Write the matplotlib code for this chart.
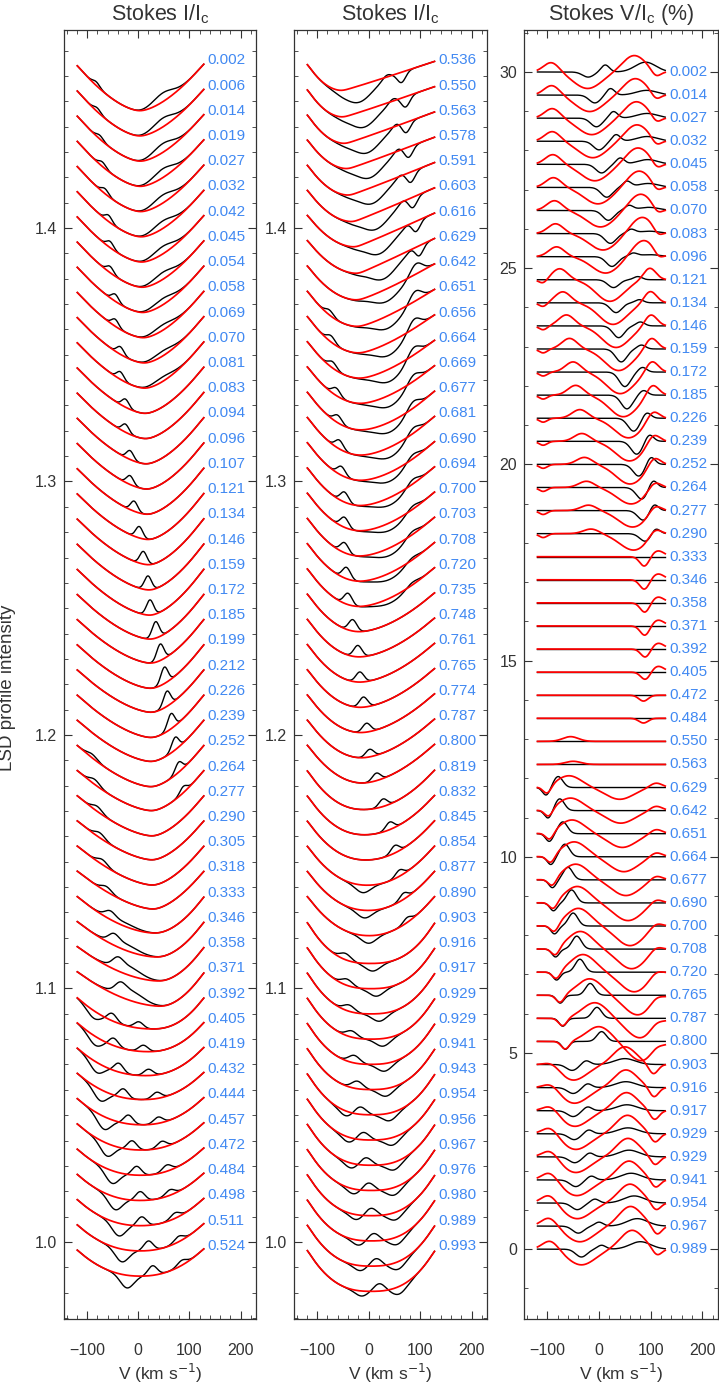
import numpy as np
import matplotlib.pyplot as plt

plt.rcParams['font.family'] = ['Liberation Sans', 'DejaVu Sans']
_ = None

# ---------------- panel 1 : Stokes I, first half of the phases
phase_1 = [0.002, 0.006, 0.014, 0.019, 0.027, 0.032, 0.042, 0.045, 0.054, 0.058,
           0.069, 0.070, 0.081, 0.083, 0.094, 0.096, 0.107, 0.121, 0.134, 0.146,
           0.159, 0.172, 0.185, 0.199, 0.212, 0.226, 0.239, 0.252, 0.264, 0.277,
           0.290, 0.305, 0.318, 0.333, 0.346, 0.358, 0.371, 0.392, 0.405, 0.419,
           0.432, 0.444, 0.457, 0.472, 0.484, 0.498, 0.511, 0.524]
# model line: centre (km/s), depth (1e-3), shape exponent
mod1_c = [3, 3, 4, 4, 5, 6, 7, 8, 9, 10, 12, 13, 14, 15, 16, 17, 18,
          20, 21, 22, 23, 24, 25, 25, 26, 26, 26, 26, 27, 28, 28, 29, 30,
          34, 38, 42, 45, 30, 21, 15, 10, 8, 6, 5, 4, 4, 4, 4]
mod1_d = [20] * 21 + [19.5, 19, 19, 18.5, 18.5, 18, 18, 17.5, 17.5, 17, 17, 16.5,
                      16, 15.5, 15, 15, 14, 13, 12.5, 12, 12, 12, 12, 12, 12, 12, 12]
mod1_q = [1.6] * 33 + [1.8] * 4 + [2.2] * 11
# observed = model + features (velocity km/s, amplitude 1e-3)
obs1_a_v = [-82, -80, -75, -70, -65, -58, -55, -55, -45, -45, -35, -35, -25, -25, -16,
            -16, -8, 2, 10, 19, 23, 34, 43, 51, 56, 64, 72, 79, 88] + [_] * 19
obs1_a_a = [1.5, 1.5, 1.5, 1.8, 2, 2.5, 2.5, 2.5, 2.8, 2.8, 3, 3, 3.2, 3.2, 3.5, 3.5,
            4, 4.5, 5, 5.5, 6, 6.5, 6.5, 6.5, 6, 6, 5, 4, 2.5] + [_] * 19
obs1_b_v = [48] * 12 + [_] * 36
obs1_b_a = [3.5, 3.5, 3.5, 3.5, 3.2, 3, 3, 2.8, 2.5, 2.2, 2, 1.8] + [_] * 36
obs1_c_v = [_] * 27 + [-90, -85, -80, -75, -70, -62, -55, -48, -40, -35] + [_] * 11
obs1_c_a = [_] * 27 + [1.5, 2, 2, 2, 2, 2, 2.5, 3, 3, 3] + [_] * 11
obs1_d_v = [_] * 33 + [-30, -25, -20, -15] + [_] * 11
obs1_d_a = [_] * 33 + [1.5, 2.5, 3.5, 4] + [_] * 11
obs1_e_v = [_] * 37 + [-87, -84, -81, -74, -67, -61, -51, -45, -38, -32, -22]
obs1_e_a = [_] * 37 + [-3, -3.5, -4, -4.5, -5, -5, -5, -5, -5, -5, -5]
obs1_f_v = [_] * 37 + [-51, -48, -38, -29, -19, -12, -3, 4, 7, 20, 28]
obs1_f_a = [_] * 37 + [3, 3, 3.5, 3.5, 3.5, 3.5, 3.5, 3.5, 3.5, 3.8, 3.8]
obs1_g_v = [_] * 37 + [1, 10, 20, 36, 39, 46, 56, 62, 72, 79, 85]
obs1_g_a = [_] * 37 + [2.5, 2.5, 2.5, 2.5, 2.5, 2.5, 2.5, 2.2, 2.2, 2.2, 2]

# ---------------- panel 2 : Stokes I, second half of the phases
phase_2 = [0.536, 0.550, 0.563, 0.578, 0.591, 0.603, 0.616, 0.629, 0.642, 0.651,
           0.656, 0.664, 0.669, 0.677, 0.681, 0.690, 0.694, 0.700, 0.703, 0.708,
           0.720, 0.735, 0.748, 0.761, 0.765, 0.774, 0.787, 0.800, 0.819, 0.832,
           0.845, 0.854, 0.877, 0.890, 0.903, 0.916, 0.917, 0.929, 0.929, 0.941,
           0.943, 0.954, 0.956, 0.967, 0.976, 0.980, 0.989, 0.993]
mod2_c = [-51, -49, -45, -40, -37, -30, -25, -20, -21, -20, -18, -16, -15,
          -15, -15, -15, -16, -16, -17, -17, -18, -18, -18, -17, -16, -15, -14, -12,
          -10, -8, -5, -2, 0, 2] + [3, 4, 4] + [5] * 11
mod2_d = [12, 12.5, 13, 13, 13.5, 14, 14, 14.5, 15, 15.5, 16, 16, 16] + [16.5] * 15 \
    + [17] * 6 + [18] * 14
mod2_ql = [2.0] * 28 + [2.2] * 6 + [2.6] * 14
mod2_qr = [1.05] * 8 + [1.2, 1.3, 1.4, 1.5, 1.6] + [1.7] * 15 + [2.0] * 6 + [2.6] * 14
obs2_a_v = [-18, -8, -2, 3, 8, 15, 22, 30, 35, 38, 40, 42, 42, 42, 42, 42, 42, 42, 42,
            42, 42] + [_] * 27
obs2_a_a = [-6.5] * 8 + [-5, -5, -5, -5, -4.5, -4, -4, -3.5, -3, -3, -3, -2.5, -2] + [_] * 27
obs2_b_v = [35, 47, 54, 57, 62, 67, 77, 85] + [_] * 40
obs2_b_a = [1.5, 1.5, 1.5, 1.5, 1.2, 1.2, 1, 1] + [_] * 40
obs2_c_v = [64, 72, 73, 78, 82, 86, 92, 98] + [_] * 40
obs2_c_a = [-4] * 8 + [_] * 40
obs2_d_v = [_] * 8 + [92, 90, 88, 87, 87, 86, 86, 85, 85, 85, 84, 84, 84] + [_] * 27
obs2_d_a = [_] * 8 + [4.5, 4.5, 4.5, 4, 3.5, 3.5, 3, 2.5, 2.5, 2, 2, 1.5, 1.5] + [_] * 27
obs2_e_v = [_] * 9 + [-76, -73, -70, -63, -60, -57, -53, -47, -47, -47, -43, -40, -31,
                      -21, -17, -10, -4, 2, 15, 28, 41, 51, 60, 68, 75] + [_] * 14
obs2_e_a = [_] * 9 + [2, 2.5, 2.5, 3, 3, 3.5, 3.5, 4, 4, 4, 4.5, 4.5, 4.5, 4.5, 4, 4,
                      3.5, 3, 3, 3, 3, 3, 2.5, 2.5, 2] + [_] * 14
obs2_f_v = [_] * 31 + [-11, -8, 0, 8, 15, 21, 28, 31, 34, 41, 47, 50, 50, 53, 56, 58, 60]
obs2_f_a = [_] * 31 + [-3] * 17
obs2_g_v = [_] * 34 + [-45, -42, -38, -33, -28, -22, -16, -10, -5, 0, 5, 10, 15, 21]
obs2_g_a = [_] * 34 + [2.5] * 4 + [3] * 10
obs2_h_v = [_] * 40 + [-45, -40, -35, -30, -25, -20, -17, -14]
obs2_h_a = [_] * 40 + [-2] * 8

# ---------------- panel 3 : Stokes V (%)
phase_3 = [0.002, 0.014, 0.027, 0.032, 0.045, 0.058, 0.070, 0.083, 0.096, 0.121,
           0.134, 0.146, 0.159, 0.172, 0.185, 0.226, 0.239, 0.252, 0.264, 0.277,
           0.290, 0.333, 0.346, 0.358, 0.371, 0.392, 0.405, 0.472, 0.484, 0.550,
           0.563, 0.629, 0.642, 0.651, 0.664, 0.677, 0.690, 0.700, 0.708, 0.720,
           0.765, 0.787, 0.800, 0.903, 0.916, 0.917, 0.929, 0.929, 0.941, 0.954,
           0.967, 0.989]
# model components
mv_n0_v = [_] * 9 + [-108] * 12 + [_] * 10 + [-100, -97, -95, -93, -90, -88, -86, -84,
                                             -82, -75, -70, -65] + [_] * 9
mv_n0_a = [_] * 9 + [-0.1] * 12 + [_] * 10 + [-0.2] * 12 + [_] * 9
mv_p1_v = [-92, -91, -90, -90, -89, -88, -86, -84, -82] \
    + [-76, -70, -63, -57, -50, -45, -37, -33, -28, -24, -20, -15] + [_] * 8 + [-55, -50] \
    + [_] * 12 + [-90, -92, -93, -94, -94, -95, -96, -96, -94]
mv_p1_a = [0.25] * 9 + [0.28, 0.28, 0.28, 0.27, 0.26, 0.25, 0.22, 0.2, 0.18, 0.16, 0.14,
                        0.12] + [_] * 8 + [0.12, 0.08] + [_] * 12 \
    + [0.12, 0.15, 0.17, 0.2, 0.2, 0.22, 0.23, 0.23, 0.23]
mv_p1w_v = [_] * 31 + [-58, -55, -52, -48, -45, -42, -40, -36, -31, -18, -8, 0] + [_] * 9
mv_p1w_a = [_] * 31 + [0.3, 0.32, 0.35, 0.38, 0.4, 0.42, 0.45, 0.45, 0.45, 0.42, 0.4,
                       0.38] + [_] * 9
mv_n1_v = [-22, -18, -14, -12, -8, -2, 3, 8, 13] \
    + [21, 27, 33, 38, 41, 47, 57, 59, 60, 62, 65, 67] + [_] * 10 \
    + [40, 42, 45, 48, 52, 56, 60, 63, 68, 75, 80, 83] \
    + [-50, -48, -47, -45, -45, -43, -42, -37, -34]
mv_n1_a = [-0.42] * 9 + [-0.55] * 6 + [-0.5] * 3 + [-0.42] * 3 + [_] * 10 \
    + [-0.3, -0.32, -0.35, -0.38, -0.4, -0.45, -0.5, -0.5, -0.5, -0.5, -0.5, -0.5] \
    + [-0.4] * 9
mv_p2_v = [68, 70, 72, 73, 75, 77, 80, 83, 86] + [_] * 34 + [50, 52, 53, 55, 56, 58, 60,
                                                             61, 64]
mv_p2_a = [0.42] * 9 + [_] * 34 + [0.45, 0.45, 0.46, 0.47, 0.47, 0.48, 0.48, 0.5, 0.48]
mv_p3_v = [_] * 9 + [98, 99, 100, 101, 102, 103, 104, 105, 106, 107, 108, 108] \
    + [114] * 6 + [_] * 4 + [110] * 12 + [_] * 9
mv_p3_a = [_] * 9 + [0.3] * 6 + [0.25] * 3 + [0.2] * 3 + [0.15] * 6 + [_] * 4 \
    + [0.12] * 12 + [_] * 9
mv_n2_v = [110, 110, 111, 111, 112, 112, 113, 114, 115] + [_] * 12 \
    + [88, 88, 89, 89, 90, 90, 86, 86] + [_] * 14 \
    + [105, 106, 107, 108, 108, 109, 110, 112, 112]
mv_n2_a = [-0.15] * 9 + [_] * 12 + [-0.25, -0.25, -0.25, -0.25, -0.22, -0.2, -0.15, -0.12] \
    + [_] * 14 + [-0.25, -0.25, -0.24, -0.23, -0.22, -0.21, -0.2, -0.23, -0.18]
# observed components
ov_dip_v = [-21, -8, -5, 0, 5, 15, 18, 22, 25] \
    + [28, 33, 38, 43, 50, 54, 67, 73, 77, 83, 86, 90] + [_] * 22 \
    + [-52, -50, -50, -48, -47, -45, -42, -40, -34]
ov_dip_a = [-0.13, -0.2, -0.22, -0.22, -0.22, -0.25, -0.25, -0.25, -0.25] \
    + [-0.2, -0.25, -0.3, -0.33, -0.37, -0.35, -0.33, -0.33, -0.3, -0.3, -0.25, -0.2] \
    + [_] * 22 + [-0.15] * 5 + [-0.17, -0.17, -0.18, -0.2]
ov_bump_v = [12, 22, 28, 33, 41, 54, 58, 62, 66] \
    + [75, 78, 80, 82, 84, 86, 92, 97, 100, 104, 106, 109] + [_] * 22 \
    + [-25, -22, -22, -20, -18, -15, -8, 0, 5]
ov_bump_a = [0.18, 0.17, 0.17, 0.17, 0.16, 0.15, 0.12, 0.1, 0.08] \
    + [0.08, 0.08, 0.1, 0.1, 0.12, 0.12, 0.15, 0.18, 0.2, 0.2, 0.18, 0.15] + [_] * 22 \
    + [0.1] * 9
ov_broad_v = [90, 92, 93, 93, 94, 95, 96, 97, 98] + [_] * 34 \
    + [50, 52, 54, 56, 58, 62, 68, 74, 80]
ov_broad_a = [0.25, 0.12, 0.12, 0.12, 0.12, 0.1, 0.08, 0.06, 0.05] + [_] * 34 \
    + [0.15, 0.15, 0.15, 0.15, 0.17, 0.17, 0.18, 0.19, 0.19]
ov_sdip_v = [_] * 31 + [-102, -98, -96, -93, -90, -88, -86, -84, -82, -75, -70, -65] + [_] * 9
ov_sdip_a = [_] * 31 + [-0.2] * 12 + [_] * 9
ov_peak_v = [_] * 31 + [-79, -76, -70, -66, -60, -53, -50, -43, -37, -17, -4, 5] + [_] * 9
ov_peak_a = [_] * 31 + [0.28, 0.3, 0.3, 0.32, 0.32, 0.33, 0.33, 0.33, 0.33, 0.3, 0.28,
                       0.25] + [_] * 9

label_blue = '#4189f2'
vx = np.arange(-200.0, 201.0, 1.0)
show = (vx >= -119) & (vx <= 128)
kern = np.exp(-0.5 * (np.arange(-20, 21) / 6.0) ** 2)
kern /= kern.sum()


def features(tracks, k):
    out = np.zeros_like(vx)
    for sig, vs, amps in tracks:
        if vs[k] is not None:
            out += amps[k] * np.exp(-0.5 * ((vx - vs[k]) / sig) ** 2)
    return out


def line_profile(c, d, ql, qr, vl, vr):
    left = vx < c
    u = np.where(left, (c - vx) / (c - vl), (vx - c) / (vr - c))
    q = np.where(left, ql, qr)
    prof = -d * np.clip(1 - u ** q, 0, None)
    return np.convolve(prof, kern, mode='same')


def style_axes(ax):
    ax.set_xlim(-145, 230)
    ax.set_xticks([-100, 0, 100, 200])
    ax.set_xticks(np.arange(-140, 231, 20), minor=True)
    ax.tick_params(which='both', direction='in', top=True, right=True,
                   labelsize=11.5, color='#333333', labelcolor='#333333')
    ax.tick_params(which='major', length=6)
    ax.tick_params(which='minor', length=3)
    ax.tick_params(axis='x', pad=17)
    for s in ax.spines.values():
        s.set_linewidth(0.9)
        s.set_color('#333333')
    ax.set_xlabel('V (km s$^{-1}$)', fontsize=12.5, color='#333333', labelpad=3)


fig = plt.figure(figsize=(7.19, 13.84), dpi=100)
H = 1384.0
W = 719.0
ax1 = fig.add_axes([64 / W, 1 - 1319 / H, 192 / W, 1289 / H])
ax2 = fig.add_axes([294 / W, 1 - 1319 / H, 193 / W, 1289 / H])
ax3 = fig.add_axes([524 / W, 1 - 1319 / H, 194 / W, 1289 / H])

step_i = 0.00995
panels_i = [
    (ax1, phase_1, mod1_c, mod1_d, mod1_q, mod1_q, -128, 134,
     [(7, obs1_a_v, obs1_a_a), (20, obs1_b_v, obs1_b_a), (10, obs1_c_v, obs1_c_a),
      (25, obs1_d_v, obs1_d_a), (13, obs1_e_v, obs1_e_a), (9, obs1_f_v, obs1_f_a),
      (9, obs1_g_v, obs1_g_a)]),
    (ax2, phase_2, mod2_c, mod2_d, mod2_ql, mod2_qr, -124, 134,
     [(26, obs2_a_v, obs2_a_a), (8, obs2_b_v, obs2_b_a), (8, obs2_c_v, obs2_c_a),
      (12, obs2_d_v, obs2_d_a), (8, obs2_e_v, obs2_e_a), (14, obs2_f_v, obs2_f_a),
      (11, obs2_g_v, obs2_g_a), (12, obs2_h_v, obs2_h_a)]),
]
for ax, ph, mc, md, mql, mqr, vl, vr, tracks in panels_i:
    n = len(ph)
    for k in range(n):
        base = 0.9985 + step_i * (n - 1 - k)
        model = line_profile(mc[k], md[k], mql[k], mqr[k], vl, vr) * 1e-3
        obs = model + features(tracks, k) * 1e-3
        ax.plot(vx[show], base + obs[show], color='black', lw=1.0)
        ax.plot(vx[show], base + model[show], color='red', lw=1.25)
        ax.text(136, base, f'{ph[k]:.3f}', color=label_blue, fontsize=11, va='center',
                ha='left')
    style_axes(ax)
    ax.set_ylim(0.9696, 1.4781)
    ax.set_yticks([1.0, 1.1, 1.2, 1.3, 1.4])
    ax.set_yticklabels(['1.0', '1.1', '1.2', '1.3', '1.4'])
    ax.set_yticks(np.arange(0.97, 1.48, 0.01), minor=True)
    ax.tick_params(axis='y', pad=5)
    ax.set_title('Stokes I/I$_\\mathregular{c}$', fontsize=15.5, color='#333333', pad=7)

ax1.set_ylabel('LSD profile intensity', fontsize=13.5, color='#333333')
ax1.yaxis.set_label_coords(-0.25, 0.49)

model_v = [(8, mv_n0_v, mv_n0_a), (15, mv_p1_v, mv_p1_a), (24, mv_p1w_v, mv_p1w_a),
           (27, mv_n1_v, mv_n1_a), (22, mv_p2_v, mv_p2_a), (12, mv_p3_v, mv_p3_a),
           (9, mv_n2_v, mv_n2_a)]
obs_v = [(11, ov_dip_v, ov_dip_a), (8, ov_bump_v, ov_bump_a), (20, ov_broad_v, ov_broad_a),
         (7, ov_sdip_v, ov_sdip_a), (9, ov_peak_v, ov_peak_a)]
n3 = len(phase_3)
step_v = 30.0 / (n3 - 1)
for k in range(n3):
    base = step_v * (n3 - 1 - k)
    model = features(model_v, k)
    obs = features(obs_v, k)
    ax3.plot(vx[show], base + obs[show], color='black', lw=1.0)
    ax3.plot(vx[show], base + model[show], color='red', lw=1.25)
    ax3.text(136, base, f'{phase_3[k]:.3f}', color=label_blue, fontsize=11, va='center',
             ha='left')
style_axes(ax3)
ax3.set_ylim(-1.78, 31.07)
ax3.set_yticks([0, 5, 10, 15, 20, 25, 30])
ax3.set_yticks(np.arange(-1, 32, 1), minor=True)
ax3.tick_params(axis='y', pad=5)
ax3.set_title('Stokes V/I$_\\mathregular{c}$ (%)', fontsize=15.5, color='#333333', pad=7)

fig.savefig('out.png', dpi=100)
